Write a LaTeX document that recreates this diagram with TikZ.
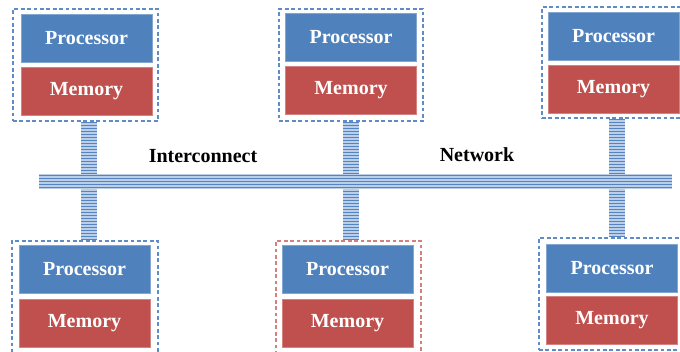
\documentclass[tikz,border=0pt]{standalone}
\usepackage{fontspec}
\setmainfont{Liberation Serif}
\usetikzlibrary{calc}
\definecolor{procblue}{HTML}{4F81BD}
\definecolor{memred}{HTML}{C0504D}
\definecolor{dashblue}{HTML}{5F8CC7}
\definecolor{dashred}{HTML}{D5807E}
\definecolor{busfill}{HTML}{BCCFE8}
\definecolor{busline}{HTML}{5584C2}
\tikzset{
  unit/.style={rectangle, minimum width=98.25pt, minimum height=36pt, inner sep=0pt,
    text=white, font=\fontsize{15}{18}\selectfont\bfseries},
  procbox/.style={unit, fill=procblue, draw=procblue!70!white, line width=0.5pt},
  membox/.style={unit, fill=memred, draw=memred!70!white, line width=0.5pt},
  groupbox/.style={rectangle, draw=dashblue, line width=0.85pt, dash pattern=on 2.8pt off 2pt, inner sep=0pt},
  groupboxred/.style={groupbox, draw=dashred},
  buslabel/.style={font=\fontsize{15}{18}\selectfont\bfseries, text=black},
  stripe/.style={draw=busline, line width=0.7pt}
}
\begin{document}
\begin{tikzpicture}[x=0.75pt,y=-0.75pt]
\clip (0,0) rectangle (680,351);
% group boxes
\node[groupbox, minimum width=108.75pt, minimum height=84pt] (tlbox) at (85.5,65) {};
\node[groupbox, minimum width=108pt, minimum height=84pt] (tmbox) at (351,65) {};
\node[groupbox, minimum width=106.5pt, minimum height=83.25pt] (trbox) at (613,62.5) {};
\node[groupbox, minimum width=109.5pt, minimum height=84pt] (blbox) at (85,297) {};
\node[groupboxred, minimum width=108.75pt, minimum height=84pt] (bmbox) at (348.5,297) {};
\node[groupbox, minimum width=108.75pt, minimum height=84pt] (brbox) at (611.5,294) {};
% processors and memories
\node[procbox] (tlp) at (86.5,38) {Processor};
\node[membox]  (tlm) at (86.5,91) {Memory};
\node[procbox] (tmp) at (351,37.5) {Processor};
\node[membox]  (tmm) at (351,90.5) {Memory};
\node[procbox] (trp) at (613.5,36.5) {Processor};
\node[membox]  (trm) at (613.5,89.5) {Memory};
\node[procbox] (blp) at (84.5,269.5) {Processor};
\node[membox]  (blm) at (84.5,323) {Memory};
\node[procbox] (bmp) at (347.5,269.5) {Processor};
\node[membox]  (bmm) at (347.5,323) {Memory};
\node[procbox] (brp) at (612,268) {Processor};
\node[membox]  (brm) at (612,320.5) {Memory};
% vertical buses
\foreach \xl/\xr/\a/\b in {81/97/tlbox/blbox, 343/359/tmbox/bmbox, 609/625/trbox/brbox} {
  \begin{scope}
    \clip (\xl,0 |- \a.south) rectangle (\xr,0 |- \b.north);
    \fill[busfill] (\xl,0 |- \a.south) rectangle (\xr,0 |- \b.north);
    \foreach \yy in {119,122,...,245} \draw[stripe] (\xl,\yy) -- (\xr,\yy);
  \end{scope}
}
% horizontal bus
\coordinate (hbl) at (39,174);
\coordinate (hbr) at (672,189);
\begin{scope}
  \clip (hbl) rectangle (hbr);
  \fill[busfill] (hbl) rectangle (hbr);
  \foreach \yy in {175,178,...,189} \draw[stripe] (39,\yy) -- (672,\yy);
\end{scope}
% labels
\node[buslabel] (ic) at (203,156) {Interconnect};
\node[buslabel] (nw) at (477,155) {Network};
\end{tikzpicture}
\end{document}
